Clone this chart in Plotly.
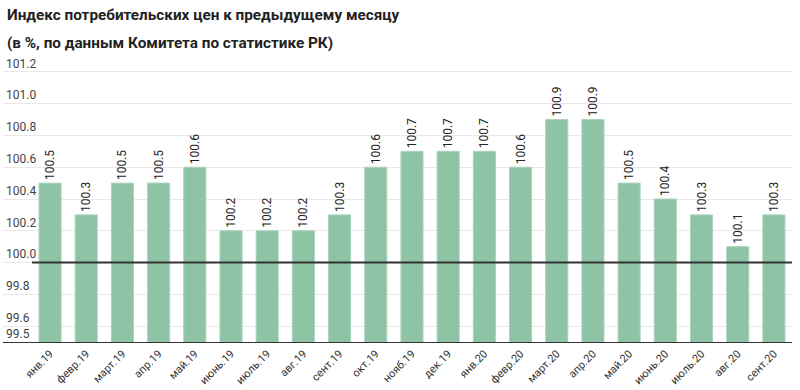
import plotly.graph_objects as go

months = ["янв.19", "февр.19", "март.19", "апр.19", "май.19", "июнь.19", "июль.19",
          "авг.19", "сент.19", "окт.19", "нояб.19", "дек.19", "янв.20", "февр.20",
          "март.20", "апр.20", "май.20", "июнь.20", "июль.20", "авг.20", "сент.20"]
cpi = [100.5, 100.3, 100.5, 100.5, 100.6, 100.2, 100.2, 100.2, 100.3, 100.6, 100.7,
       100.7, 100.7, 100.6, 100.9, 100.9, 100.5, 100.4, 100.3, 100.1, 100.3]
y_ticks = [99.5, 99.6, 99.8, 100.0, 100.2, 100.4, 100.6, 100.8, 101.0, 101.2]
y_tick_labels = ["99.5", "99.6", "99.8", "100.0", "100.2", "100.4", "100.6", "100.8", "101.0", "101.2"]
title_line1 = "Индекс потребительских цен к предыдущему месяцу"
title_line2 = "(в %, по данным Комитета по статистике РК)"
baseline = 100.0

x_idx = list(range(len(months)))

fig = go.Figure()
fig.add_trace(go.Bar(
    x=x_idx, y=cpi,
    marker=dict(color="#8ec3a6", line=dict(color="#a9d3bb", width=1)),
    width=0.61,
    text=[f"{v:.1f}" for v in cpi],
    textposition="outside",
    textangle=-90,
    constraintext="none",
    textfont=dict(family="Roboto", size=12, color="#222222"),
    cliponaxis=False,
    hoverinfo="skip",
))

fig.add_shape(type="line", xref="x", yref="y", x0=-0.5, x1=len(months) - 0.5,
              y0=baseline, y1=baseline, line=dict(color="#333333", width=2))

plot_h = 286
fig.add_annotation(text=title_line1, xref="paper", yref="paper", x=0.002, y=1 + 41 / plot_h,
                   xanchor="left", yanchor="middle", showarrow=False,
                   font=dict(family="Roboto", size=15.3, color="#222222", weight="bold"))
fig.add_annotation(text=title_line2, xref="paper", yref="paper", x=0.002, y=1 + 13 / plot_h,
                   xanchor="left", yanchor="middle", showarrow=False,
                   font=dict(family="Roboto", size=15.3, color="#222222", weight="bold"))

fig.update_layout(
    width=800, height=390,
    margin=dict(l=3, r=8, t=56, b=48),
    paper_bgcolor="white", plot_bgcolor="white",
    showlegend=False,
    font=dict(family="Roboto", size=12, color="#333333"),
    xaxis=dict(
        range=[-1.3, len(months) - 0.5],
        tickmode="array", tickvals=x_idx, ticktext=months,
        tickangle=-45, tickfont=dict(size=11, color="#333333"),
        showgrid=False, zeroline=False,
        showline=True, linecolor="#333333", linewidth=1,
        ticks="", automargin=False,
    ),
    yaxis=dict(
        range=[99.5, 101.3],
        tickmode="array", tickvals=y_ticks, ticktext=y_tick_labels,
        ticklabelposition="inside top", ticklabelstandoff=0,
        tickfont=dict(size=12, color="#444444"),
        showgrid=True, gridcolor="#e8e8e8", gridwidth=1,
        zeroline=False, showline=False, ticks="", automargin=False,
    ),
)

fig.write_html("out.html", config={"displayModeBar": False},
               post_script="document.body.style.margin='0';")
